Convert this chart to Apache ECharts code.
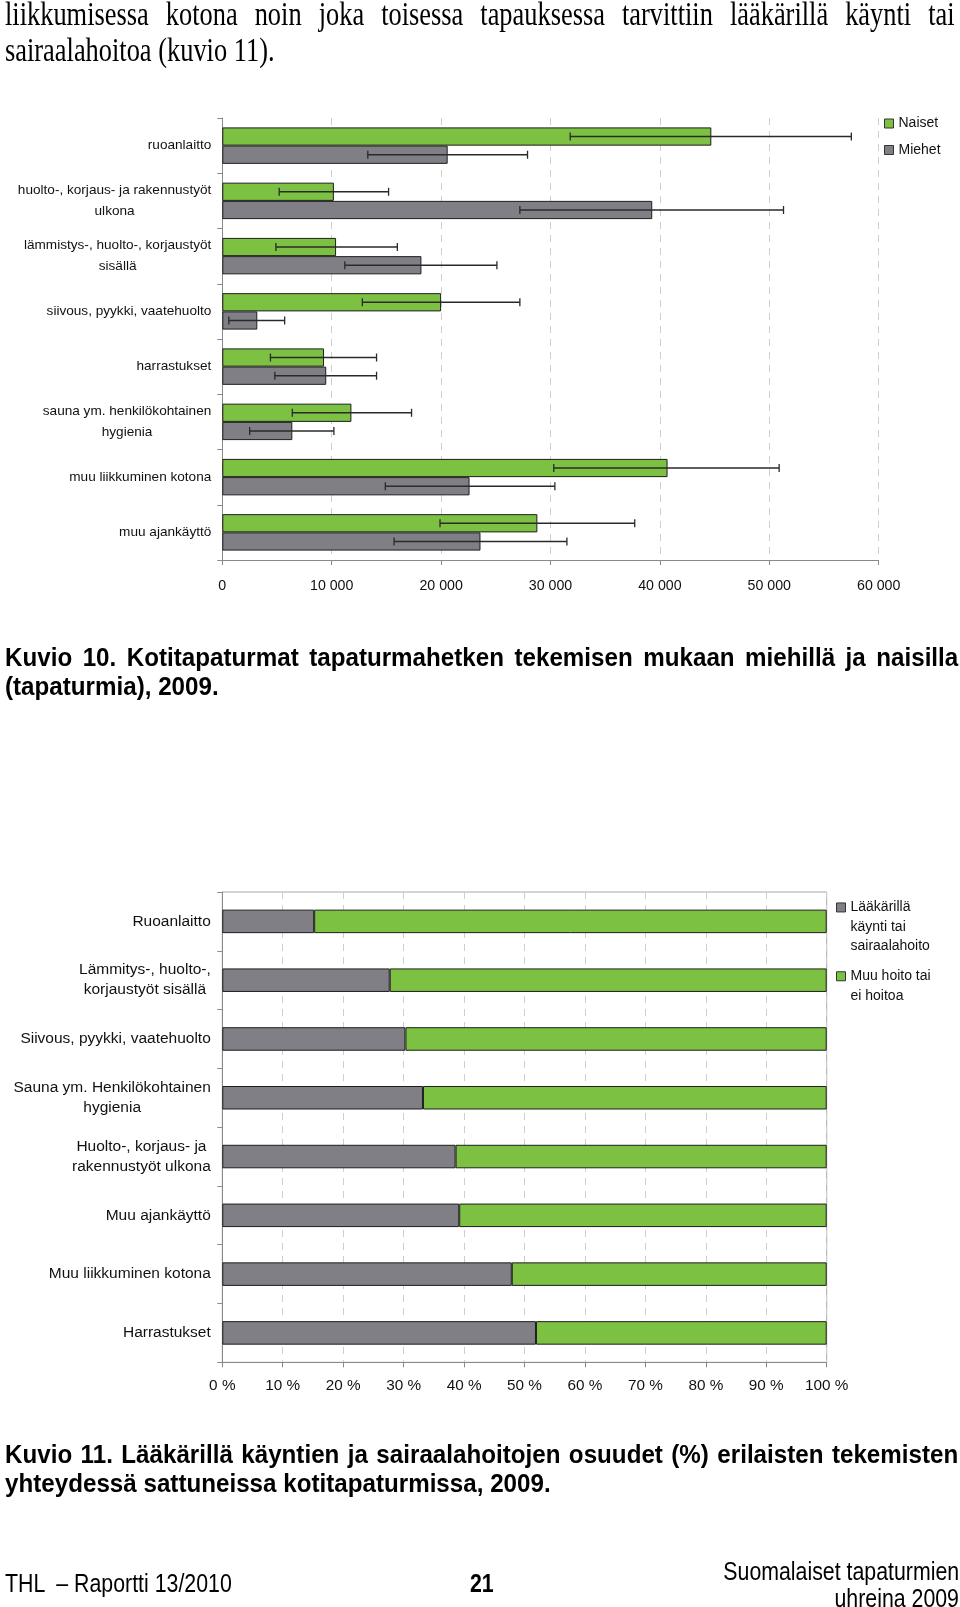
<!DOCTYPE html>
<html><head><meta charset="utf-8">
<script src="https://cdn.jsdelivr.net/npm/echarts@6/dist/echarts.min.js"></script>
<style>
html,body{margin:0;padding:0;background:#fff;}
#page{position:relative;width:960px;height:1607px;overflow:hidden;background:#fff;}
#chart{position:absolute;left:0;top:0;width:960px;height:1607px;}
.t{position:absolute;color:#000;transform-origin:0 0;line-height:1;white-space:nowrap;}
.j{text-align:justify;text-align-last:justify;white-space:normal;}
.serif{font-family:'Liberation Serif','Times New Roman',serif;}
.sans{font-family:'Liberation Sans',Arial,sans-serif;}
</style></head><body>
<div id="page">
<div id="chart"></div>
<div class="t j serif" style="left:5px;top:-2px;font-size:33px;width:1187px;transform:scaleX(0.8);">liikkumisessa kotona noin joka toisessa tapauksessa tarvittiin lääkärillä käynti tai</div>
<div class="t serif" style="left:5px;top:34px;font-size:33px;transform:scaleX(0.8);">sairaalahoitoa (kuvio 11).</div>
<div class="t j sans" style="left:5px;top:644px;font-size:26px;font-weight:bold;width:1025px;transform:scaleX(0.93);">Kuvio 10. Kotitapaturmat tapaturmahetken tekemisen mukaan miehillä ja naisilla</div>
<div class="t sans" style="left:5px;top:673px;font-size:26px;font-weight:bold;transform:scaleX(0.93);">(tapaturmia), 2009.</div>
<div class="t j sans" style="left:5px;top:1441px;font-size:26px;font-weight:bold;width:1025px;transform:scaleX(0.93);">Kuvio 11. Lääkärillä käyntien ja sairaalahoitojen osuudet (%) erilaisten tekemisten</div>
<div class="t sans" style="left:5px;top:1470px;font-size:26px;font-weight:bold;transform:scaleX(0.93);">yhteydessä sattuneissa kotitapaturmissa, 2009.</div>
<div class="t sans" style="left:5px;top:1571px;font-size:25.7px;transform:scaleX(0.83);">THL &nbsp;– Raportti 13/2010</div>
<div class="t sans" style="left:470px;top:1571px;font-size:25.7px;font-weight:bold;transform:scaleX(0.83);">21</div>
<div class="t sans" style="right:1px;top:1559px;font-size:25.7px;transform:scaleX(0.83);transform-origin:100% 0;">Suomalaiset tapaturmien</div>
<div class="t sans" style="right:1px;top:1586px;font-size:25.7px;transform:scaleX(0.83);transform-origin:100% 0;">uhreina 2009</div>
</div>
<script>
// ---------- Data: Kuvio 10 ----------
const categories1 = [
  'ruoanlaitto',
  'huolto-, korjaus- ja rakennustyöt\nulkona',
  'lämmistys-, huolto-, korjaustyöt\nsisällä',
  'siivous, pyykki, vaatehuolto',
  'harrastukset',
  'sauna ym. henkilökohtainen\nhygienia',
  'muu liikkuminen kotona',
  'muu ajankäyttö'
];
const naiset     = [44700, 10200, 10400, 20000,  9300, 11800, 40700, 28800];
const naisetLow  = [31800,  5200,  4900, 12800,  4400,  6400, 30300, 19900];
const naisetHigh = [57500, 15200, 16000, 27200, 14100, 17300, 50900, 37700];
const miehet     = [20600, 39300, 18200,  3200,  9500,  6400, 22600, 23600];
const miehetLow  = [13300, 27200, 11200,   600,  4800,  2500, 14900, 15700];
const miehetHigh = [27900, 51300, 25100,  5700, 14100, 10200, 30400, 31500];
const ticks1 = ['0', '10 000', '20 000', '30 000', '40 000', '50 000', '60 000'];

// ---------- Data: Kuvio 11 ----------
const categories2 = [
  'Ruoanlaitto',
  'Lämmitys-, huolto-,\nkorjaustyöt sisällä',
  'Siivous, pyykki, vaatehuolto',
  'Sauna ym. Henkilökohtainen\nhygienia',
  'Huolto-, korjaus- ja\nrakennustyöt ulkona',
  'Muu ajankäyttö',
  'Muu liikkuminen kotona',
  'Harrastukset'
];
const laakari = [15.2, 27.7, 30.3, 33.2, 38.6, 39.2, 47.9, 51.9];
const muuHoito = [84.8, 72.3, 69.7, 66.8, 61.4, 60.8, 52.1, 48.1];
const ticks2 = ['0 %', '10 %', '20 %', '30 %', '40 %', '50 %', '60 %', '70 %', '80 %', '90 %', '100 %'];

const S1 = 'Lääkärillä käynti tai sairaalahoito';
const S2 = 'Muu hoito tai ei hoitoa';

// ---------- Styles ----------
const GREEN = '#7cc142';
const GRAY = '#807f86';
const EDGE = '#1e1e1e';
const AXIS = '#8a8a8a';
const GRID = '#cfcfcf';
const SANS = "'Liberation Sans',Arial,sans-serif";
const F1 = 13.6;
const GAP1 = 0.34;

function centered(v) {
  return v.split('\n').map(s => '{c|' + s + '}').join('\n');
}

function errRender(sign) {
  return function (params, api) {
    const cat = api.value(0);
    const p1 = api.coord([api.value(1), cat]);
    const p2 = api.coord([api.value(2), cat]);
    const band = api.size([0, 1])[1];
    const bw = band * (1 - GAP1) / 2;
    const y = p1[1] + sign * bw / 2;
    const h = 4;
    const style = { stroke: '#2a2a2a', lineWidth: 1.3 };
    return {
      type: 'group',
      children: [
        { type: 'line', shape: { x1: p1[0], y1: y, x2: p2[0], y2: y }, style: style },
        { type: 'line', shape: { x1: p1[0], y1: y - h, x2: p1[0], y2: y + h }, style: style },
        { type: 'line', shape: { x1: p2[0], y1: y - h, x2: p2[0], y2: y + h }, style: style }
      ]
    };
  };
}

const errN = naiset.map((_, i) => [i, naisetLow[i], naisetHigh[i]]);
const errM = miehet.map((_, i) => [i, miehetLow[i], miehetHigh[i]]);

const chart = echarts.init(document.getElementById('chart'), null, { renderer: 'canvas' });
chart.setOption({
  animation: false,
  backgroundColor: 'transparent',
  grid: [
    { left: 222.3, top: 118, width: 656.4, height: 442, containLabel: false, outerBoundsMode: 'none' },
    { left: 222.3, top: 892, width: 604.4, height: 470.3, containLabel: false, outerBoundsMode: 'none',
      show: true, borderColor: '#a8a8a8', borderWidth: 1, backgroundColor: 'transparent' }
  ],
  legend: [
    {
      data: ['Naiset', 'Miehet'], orient: 'vertical', left: 879, top: 111,
      itemWidth: 9, itemHeight: 9, itemGap: 11.5, icon: 'rect', selectedMode: false,
      itemStyle: { borderColor: '#333', borderWidth: 1 },
      textStyle: { fontFamily: SANS, fontSize: 14, lineHeight: 15, color: '#111' }
    },
    {
      data: [S1, S2], orient: 'vertical', left: 831, top: 866.2,
      itemWidth: 9, itemHeight: 9, itemGap: -3.7, icon: 'rect', selectedMode: false,
      itemStyle: { borderColor: '#333', borderWidth: 1 },
      formatter: function (name) {
        if (name === S1) return '{sp2| }\n{t|Lääkärillä}\n{t|käynti tai}\n{t|sairaalahoito}';
        return '{sp1| }\n{t|Muu hoito tai}\n{t|ei hoitoa}';
      },
      textStyle: {
        fontFamily: SANS, fontSize: 14, color: '#111',
        rich: {
          t: { fontFamily: SANS, fontSize: 14, lineHeight: 19.5, color: '#111' },
          sp1: { fontSize: 14, lineHeight: 19.5 },
          sp2: { fontSize: 14, lineHeight: 39 }
        }
      }
    }
  ],
  xAxis: [
    {
      gridIndex: 0, type: 'value', min: 0, max: 60000, interval: 10000,
      axisLine: { show: true, lineStyle: { color: AXIS, width: 1 } },
      axisTick: { show: true, length: 5, lineStyle: { color: AXIS } },
      splitLine: { show: true, lineStyle: { color: GRID, type: [7, 6], width: 1 } },
      axisLabel: {
        margin: 19, color: '#111', fontFamily: SANS, fontSize: 14.2,
        formatter: v => ticks1[Math.round(v / 10000)]
      }
    },
    {
      gridIndex: 1, type: 'value', min: 0, max: 100, interval: 10,
      axisLine: { show: true, lineStyle: { color: AXIS, width: 1 } },
      axisTick: { show: true, length: 5, lineStyle: { color: AXIS } },
      splitLine: { show: true, lineStyle: { color: GRID, type: [7, 6], width: 1 } },
      axisLabel: {
        margin: 16, color: '#111', fontFamily: SANS, fontSize: 15.3,
        formatter: v => ticks2[Math.round(v / 10)]
      }
    }
  ],
  yAxis: [
    {
      gridIndex: 0, type: 'category', data: categories1, inverse: true,
      axisLine: { show: true, lineStyle: { color: AXIS, width: 1 } },
      axisTick: { show: true, length: 5, lineStyle: { color: AXIS } },
      splitLine: { show: false },
      axisLabel: {
        margin: 11, formatter: centered,
        rich: { c: { align: 'center', fontFamily: SANS, fontSize: F1, lineHeight: 21, color: '#111' } }
      }
    },
    {
      gridIndex: 1, type: 'category', data: categories2, inverse: true,
      axisLine: { show: true, lineStyle: { color: AXIS, width: 1 } },
      axisTick: { show: true, length: 5, lineStyle: { color: AXIS } },
      splitLine: { show: false },
      axisLabel: {
        margin: 11.5, formatter: centered,
        rich: { c: { align: 'center', fontFamily: SANS, fontSize: 15.5, lineHeight: 20, color: '#111' } }
      }
    }
  ],
  series: [
    {
      name: 'Naiset', type: 'bar', xAxisIndex: 0, yAxisIndex: 0, data: naiset,
      barCategoryGap: (GAP1 * 100) + '%', barGap: '0%',
      itemStyle: { color: GREEN, borderColor: EDGE, borderWidth: 1 }
    },
    {
      name: 'Miehet', type: 'bar', xAxisIndex: 0, yAxisIndex: 0, data: miehet,
      barCategoryGap: (GAP1 * 100) + '%', barGap: '0%',
      itemStyle: { color: GRAY, borderColor: EDGE, borderWidth: 1 }
    },
    {
      name: 'errNaiset', type: 'custom', xAxisIndex: 0, yAxisIndex: 0, data: errN,
      encode: { x: [1, 2], y: 0 }, renderItem: errRender(-1), z: 5, silent: true
    },
    {
      name: 'errMiehet', type: 'custom', xAxisIndex: 0, yAxisIndex: 0, data: errM,
      encode: { x: [1, 2], y: 0 }, renderItem: errRender(1), z: 5, silent: true
    },
    {
      name: S1, type: 'bar', stack: 'hoito', xAxisIndex: 1, yAxisIndex: 1, data: laakari,
      barCategoryGap: '60%',
      itemStyle: { color: GRAY, borderColor: EDGE, borderWidth: 1 }
    },
    {
      name: S2, type: 'bar', stack: 'hoito', xAxisIndex: 1, yAxisIndex: 1, data: muuHoito,
      barCategoryGap: '60%',
      itemStyle: { color: GREEN, borderColor: EDGE, borderWidth: 1 }
    }
  ]
});
</script>
</body></html>
